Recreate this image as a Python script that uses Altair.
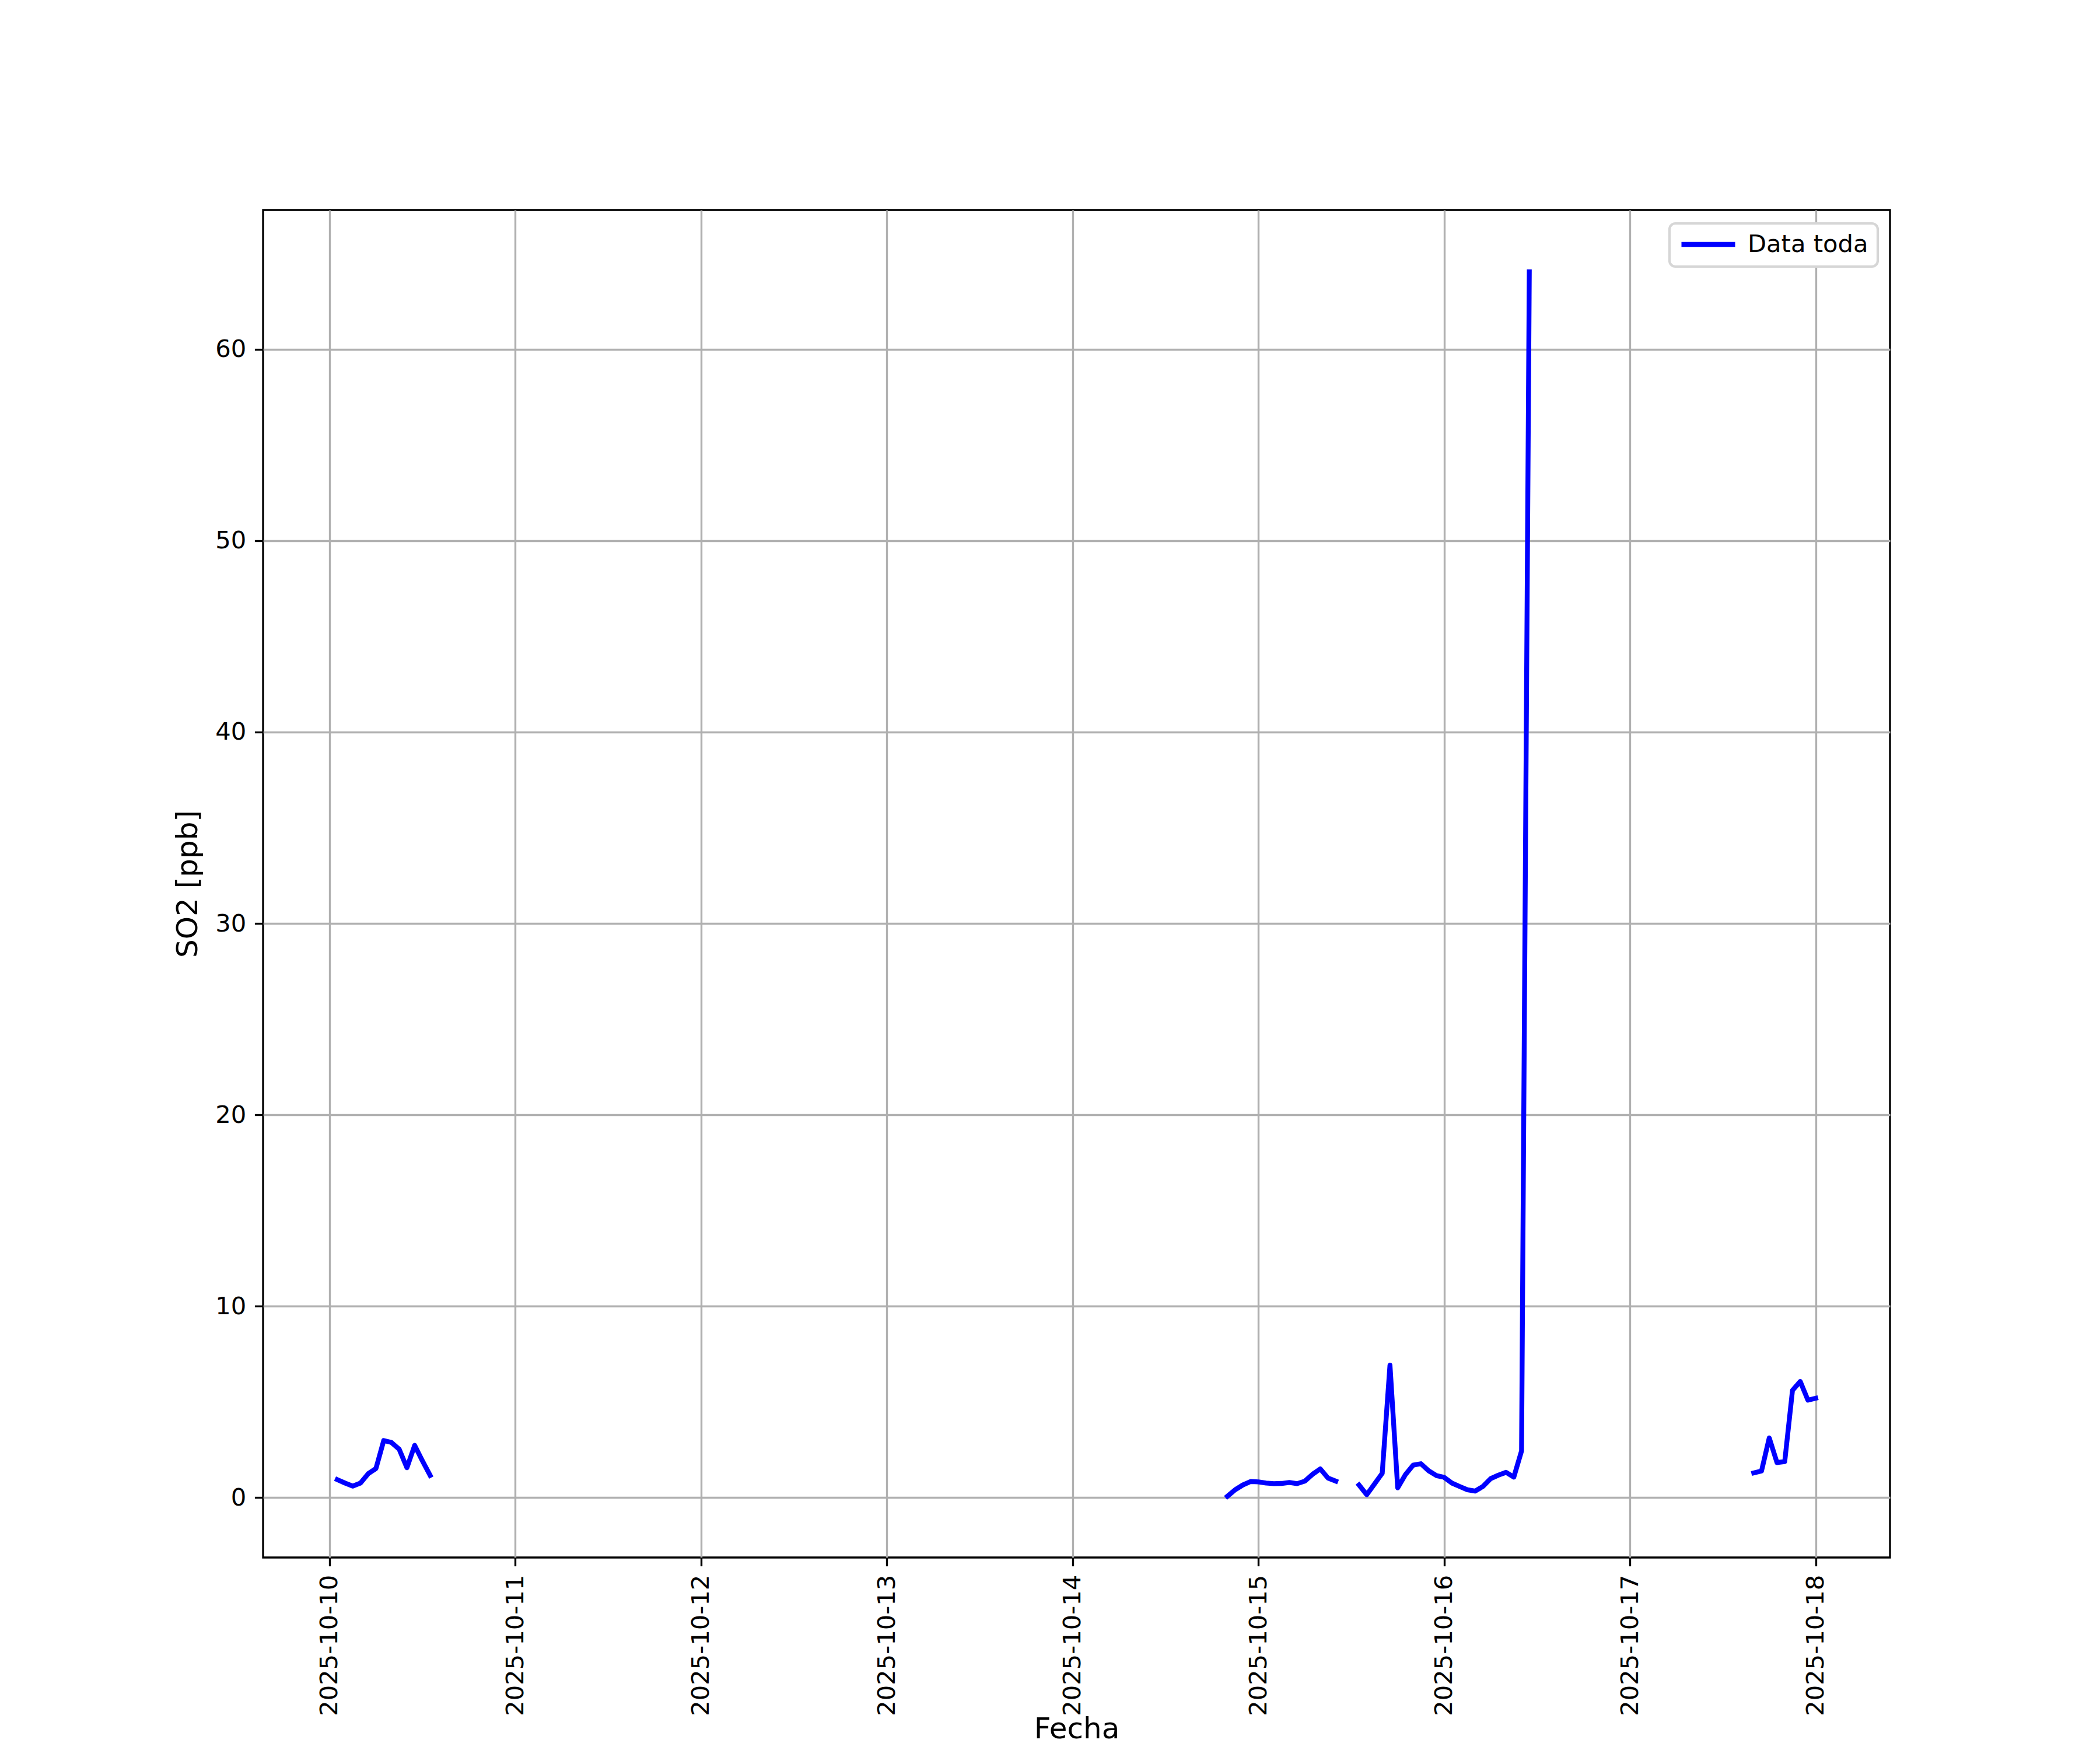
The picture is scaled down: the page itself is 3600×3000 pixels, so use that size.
import altair as alt
import pandas as pd

# Hourly SO2 readings, one list per continuous stretch of data
seg1_start = "2025-10-10 01:00"
seg1 = [0.94, 0.76, 0.60, 0.76, 1.25, 1.52, 2.98, 2.88, 2.53, 1.56, 2.73, 1.92, 1.16]
seg2_start = "2025-10-14 20:00"
seg2 = [0.07, 0.41, 0.66, 0.84, 0.82, 0.76, 0.73, 0.74, 0.79, 0.73, 0.86, 1.22, 1.50, 1.02, 0.86]
seg3_start = "2025-10-15 13:00"
seg3 = [0.66, 0.15, 0.71, 1.27, 6.92, 0.51, 1.20, 1.70, 1.77, 1.40, 1.15, 1.06,
        0.76, 0.58, 0.41, 0.34, 0.58, 0.99, 1.17, 1.32, 1.07, 2.44, 64.05]
seg4_start = "2025-10-17 16:00"
seg4 = [1.29, 1.39, 3.12, 1.83, 1.88, 5.60, 6.07, 5.09, 5.19]

series_name = "Data toda"
tick_days = list(range(10, 19))
y_ticks = [0, 10, 20, 30, 40, 50, 60]

rows = []
for i, (start, vals) in enumerate([(seg1_start, seg1), (seg2_start, seg2),
                                   (seg3_start, seg3), (seg4_start, seg4)]):
    times = pd.date_range(start, periods=len(vals), freq="h")
    for t, v in zip(times, vals):
        rows.append({"fecha": t.strftime("%Y-%m-%dT%H:%M:%S"), "so2": v,
                     "tramo": i, "serie": series_name})
df = pd.DataFrame(rows)

FONT = "DejaVu Sans"

chart = alt.Chart(df).mark_line(
    strokeWidth=8.33, strokeCap="square", strokeJoin="round"
).encode(
    x=alt.X(
        "fecha:T",
        title="Fecha",
        scale=alt.Scale(domain=[
            alt.DateTime(year=2025, month=10, date=9, hours=15, minutes=25),
            alt.DateTime(year=2025, month=10, date=18, hours=9, minutes=36),
        ]),
        axis=alt.Axis(
            values=[alt.DateTime(year=2025, month=10, date=d) for d in tick_days],
            format="%Y-%m-%d",
            labelAngle=270,
            labelAlign="right",
            labelBaseline="middle",
            labelOverlap=False,
            labelFlush=False,
            labelLimit=1000,
            titleBaseline="alphabetic",
            titleY=309,
        ),
    ),
    y=alt.Y(
        "so2:Q",
        title="SO2 [ppb]",
        scale=alt.Scale(domain=[-3.13, 67.28], nice=False, zero=False),
        axis=alt.Axis(values=y_ticks, format="d", titlePadding=21,
                      labelOverlap=False, labelLimit=1000),
    ),
    color=alt.Color(
        "serie:N",
        scale=alt.Scale(domain=[series_name], range=["#0000ff"]),
        legend=alt.Legend(
            title=None,
            orient="none",
            legendX=2411,
            legendY=23,
            symbolType="stroke",
            symbolStrokeWidth=8.33,
            symbolSize=8464,
            clipHeight=40,
            labelFontSize=41.67,
            labelFont=FONT,
            labelColor="black",
            labelLimit=1000,
            labelOffset=17,
            padding=16,
            strokeColor="#d6d6d6",
            fillColor="white",
            cornerRadius=10,
        ),
    ),
    detail="tramo:N",
).properties(
    width=2789,
    height=2310,
    autosize=alt.AutoSizeParams(type="none"),
    padding={"left": 443, "top": 352, "right": 352, "bottom": 322},
).configure_view(
    stroke="black", strokeWidth=3.33
).configure_axis(
    grid=True,
    gridColor="#b0b0b0",
    gridWidth=3.33,
    domain=False,
    ticks=True,
    tickColor="black",
    tickWidth=3.33,
    tickSize=14.6,
    labelPadding=14.6,
    labelFont=FONT,
    labelFontSize=41.67,
    labelColor="black",
    titleFont=FONT,
    titleFontSize=50,
    titleFontWeight="normal",
    titleColor="black",
).configure_legend(
    strokeWidth=4.17
)

chart.save("out.html", embed_options={"renderer": "svg", "actions": False})
